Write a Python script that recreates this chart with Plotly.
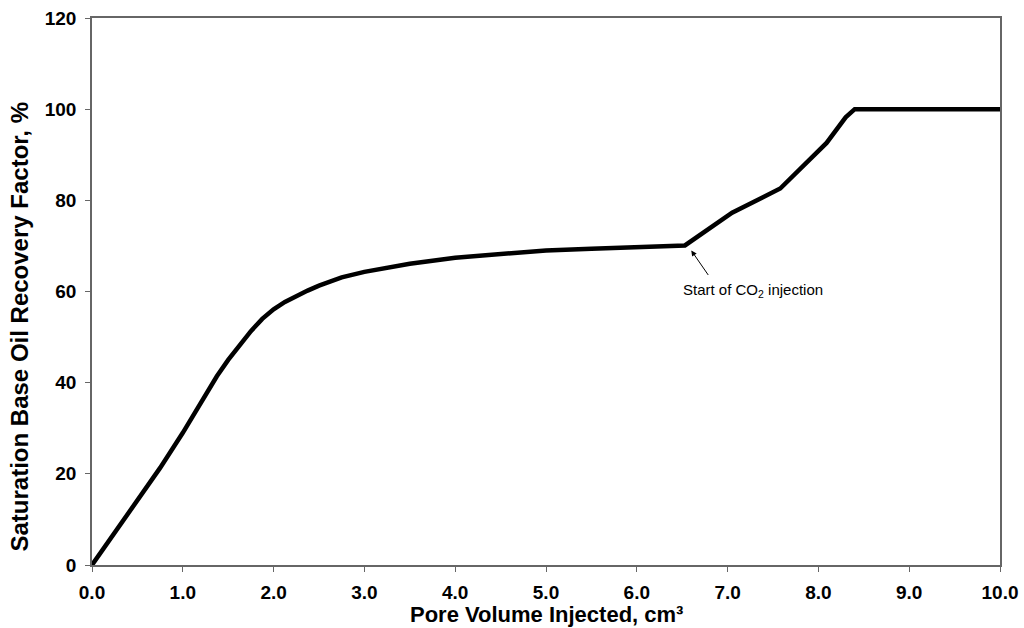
import plotly.graph_objects as go

pv = [0, 0.25, 0.5, 0.75, 1.0, 1.25, 1.375, 1.5, 1.625, 1.75, 1.875, 2.0, 2.125, 2.25,
      2.375, 2.5, 2.625, 2.75, 3.0, 3.25, 3.5, 4.0, 4.5, 5.0, 5.5, 6.0, 6.53,
      7.05, 7.58, 8.09, 8.3, 8.4, 10.0]
rf = [0, 7.0, 14.0, 21.3, 29.0, 37.5, 41.4, 45.0, 48.3, 51.3, 54.0, 56.1, 57.7, 59.0,
      60.2, 61.3, 62.3, 63.1, 64.3, 65.3, 66.1, 67.4, 68.3, 69.0, 69.4, 69.7, 70.1,
      77.3, 82.6, 92.6, 98.2, 100, 100]

FONT = "Liberation Sans, Arial, sans-serif"
AX = "#666666"

fig = go.Figure()
fig.add_trace(go.Scatter(x=pv, y=rf, mode="lines",
                         line=dict(color="black", width=4.5),
                         showlegend=False))

fig.add_annotation(x=6.6, y=69.0, xref="x", yref="y", text="", showarrow=True,
                   ax=18, ay=26, arrowhead=2, arrowsize=1.1, arrowwidth=1, arrowcolor="black")
fig.add_annotation(x=7.28, y=60.3, xref="x", yref="y", showarrow=False,
                   text="Start of CO<sub>2</sub> injection",
                   font=dict(family=FONT, size=15, color="black"))

# axis titles
fig.add_annotation(xref="paper", yref="paper", x=0.5, y=-0.0896, showarrow=False,
                   xanchor="center", yanchor="middle",
                   text="Pore Volume Injected, cm³",
                   font=dict(family=FONT, size=22, weight="bold", color="black"))
fig.add_annotation(xref="paper", yref="paper", x=-0.0793, y=0.436, showarrow=False,
                   xanchor="center", yanchor="middle", textangle=-90,
                   text="Saturation Base Oil Recovery Factor, %",
                   font=dict(family=FONT, size=24, weight="bold", color="black"))

fig.update_layout(
    width=1024, height=628,
    margin=dict(l=92, r=24, t=18, b=63),
    paper_bgcolor="white", plot_bgcolor="white",
    font=dict(family=FONT, color="black"),
)
fig.update_xaxes(range=[0, 10], dtick=1, tickformat=".1f", showgrid=False, zeroline=False,
                 showline=True, linecolor=AX, linewidth=1.5, mirror=True, automargin=False,
                 ticks="outside", ticklen=5, tickcolor=AX, ticklabelstandoff=4,
                 tickfont=dict(family=FONT, size=19, weight="bold"))
fig.update_yaxes(range=[0, 120], dtick=20, showgrid=False, zeroline=False,
                 showline=True, linecolor=AX, linewidth=1.5, mirror=True, automargin=False,
                 ticks="outside", ticklen=5, tickcolor=AX, ticklabelstandoff=5,
                 tickfont=dict(family=FONT, size=19, weight="bold"))

fig.write_html("out.html")
